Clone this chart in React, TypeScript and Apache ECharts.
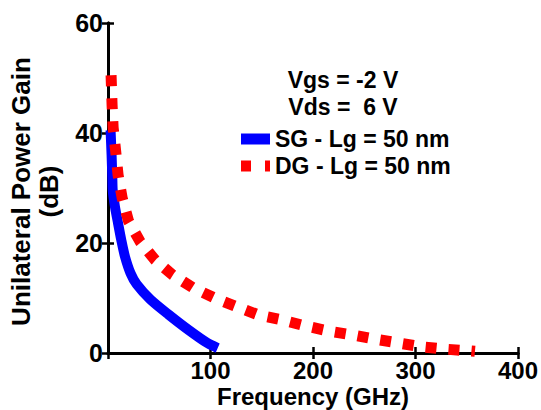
import React, { useEffect, useRef } from "react";
import * as echarts from "echarts";

const sgFreq = [2.5, 3.5, 4.2, 4.6, 6.8, 9.8, 13, 16.6, 22, 28, 41.5, 59, 78.5, 97, 107];
const sgGain = [40.5, 36, 32, 29.6, 26.6, 23.6, 20.5, 17.5, 14.5, 12.5, 9.7, 7, 4.2, 1.8, 0.9];

const dgFreq = [3, 4, 5, 7.6, 9.8, 13.8, 20, 31.5, 46, 63, 83.5, 104, 126, 147, 170, 193, 215, 238, 261, 284, 307, 329, 352, 358];
const dgGain = [50.5, 45, 41, 36.5, 32.4, 28.2, 24, 20.2, 16.9, 14.2, 11.8, 10, 8.4, 6.9, 6, 4.9, 4, 3.3, 2.5, 1.8, 1.1, 0.7, 0.4, 0.3];

const seriesNames = ["SG - Lg = 50 nm", "DG - Lg = 50 nm"];
const annotations = ["Vgs = -2 V", "Vds =  6 V"];
const xTitle = "Frequency (GHz)";
const yTitle = "Unilateral Power Gain\n(dB)";

const FONT = "'Liberation Sans', Arial, Helvetica, sans-serif";

export default function App() {
  const ref = useRef<HTMLDivElement>(null);
  useEffect(() => {
    if (!ref.current) return;
    const chart = echarts.init(ref.current, undefined, { renderer: "svg" });
    const axisLine = { show: true, lineStyle: { color: "#000", width: 3 } };
    const axisTick = { show: true, inside: true, length: 6, lineStyle: { color: "#000", width: 2.5 } };
    chart.setOption({
      animation: false,
      backgroundColor: "#fff",
      grid: { left: 108, right: 23, top: 23, bottom: 57, containLabel: false, outerBoundsMode: "none" },
      xAxis: [
        {
          type: "value",
          min: 0,
          max: 400,
          interval: 100,
          position: "bottom",
          axisLine,
          axisTick,
          splitLine: { show: false },
          axisLabel: {
            margin: 7,
            color: "#000",
            fontSize: 24,
            lineHeight: 20,
            fontWeight: "bold",
            fontFamily: FONT,
            formatter: (v: number) => (v === 0 ? "" : String(v)),
          },
          name: xTitle,
          nameLocation: "middle",
          nameGap: 32,
          nameMoveOverlap: false,
          nameTextStyle: { color: "#000", fontSize: 24, fontWeight: "bold", fontFamily: FONT, lineHeight: 22 },
        },
        {
          type: "value",
          min: 0,
          max: 400,
          interval: 100,
          position: "top",
          axisLine,
          axisTick,
          splitLine: { show: false },
          axisLabel: { show: false },
        },
      ],
      yAxis: [
        {
          type: "value",
          min: 0,
          max: 60,
          interval: 20,
          position: "left",
          axisLine,
          axisTick,
          splitLine: { show: false },
          axisLabel: {
            margin: 5,
            color: "#000",
            fontSize: 25,
            fontWeight: "bold",
            fontFamily: FONT,
          },
          name: yTitle,
          nameLocation: "middle",
          nameRotate: 90,
          nameGap: 45,
          nameMoveOverlap: false,
          nameTextStyle: {
            color: "#000",
            fontSize: 26,
            fontWeight: "bold",
            fontFamily: FONT,
            lineHeight: 28,
            align: "center",
            padding: [0, 7, 0, 0],
          },
        },
        {
          type: "value",
          min: 0,
          max: 60,
          interval: 20,
          position: "right",
          axisLine,
          axisTick,
          splitLine: { show: false },
          axisLabel: { show: false },
        },
      ],
      legend: {
        orient: "vertical",
        left: 236,
        top: 121,
        itemWidth: 29,
        itemHeight: 11,
        itemGap: 1,
        data: [
          { name: seriesNames[0], icon: "rect" },
          { name: seriesNames[1], icon: "path://M0,0h10v11h-10zM24,0h5v11h-5z" },
        ],
        textStyle: { color: "#000", fontSize: 23, fontWeight: "bold", fontFamily: FONT, lineHeight: 26 },
      },
      graphic: [
        {
          type: "text",
          x: 343,
          y: 80,
          style: { text: annotations[0], fill: "#000", font: `bold 23px ${FONT}`, align: "center", verticalAlign: "middle" },
        },
        {
          type: "text",
          x: 343,
          y: 107,
          style: { text: annotations[1], fill: "#000", font: `bold 23px ${FONT}`, align: "center", verticalAlign: "middle" },
        },
      ],
      series: [
        {
          name: seriesNames[0],
          type: "line",
          xAxisIndex: 0,
          yAxisIndex: 0,
          data: sgFreq.map((f, i) => [f, sgGain[i]]),
          showSymbol: false,
          symbol: "none",
          smooth: 0.25,
          clip: true,
          color: "#0000ff",
          itemStyle: { color: "#0000ff" },
          lineStyle: { color: "#0000ff", width: 10, cap: "butt", join: "round" },
        },
        {
          name: seriesNames[1],
          type: "line",
          xAxisIndex: 0,
          yAxisIndex: 0,
          data: dgFreq.map((f, i) => [f, dgGain[i]]),
          showSymbol: false,
          symbol: "none",
          smooth: false,
          clip: true,
          color: "#ff0000",
          itemStyle: { color: "#ff0000" },
          lineStyle: { color: "#ff0000", width: 11, type: [11, 12], cap: "butt", join: "miter" },
        },
      ],
    });
    return () => chart.dispose();
  }, []);
  return <div ref={ref} style={{ width: 541, height: 410, position: "absolute", left: 0, top: 0 }} />;
}
